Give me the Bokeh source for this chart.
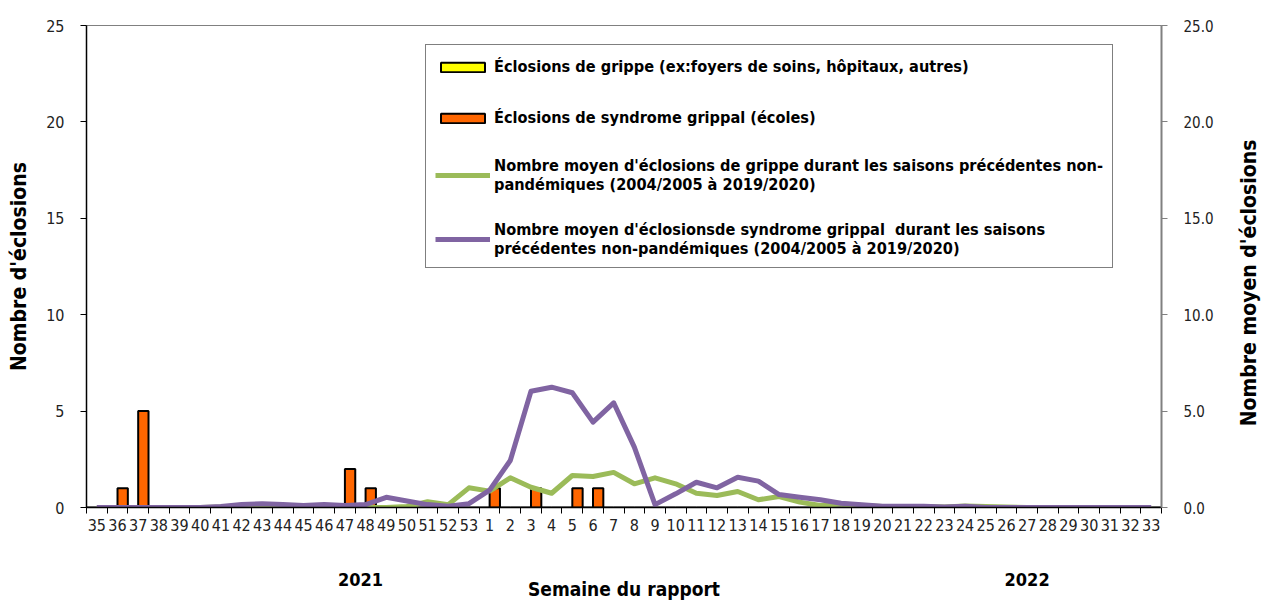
import math
from bokeh.plotting import figure
from bokeh.layouts import row
from bokeh.core.properties import value
from bokeh.models import (Range1d, LinearAxis, FixedTicker, Legend, LegendItem,
                          NumeralTickFormatter, ColumnDataSource)
from bokeh.embed import file_html
from bokeh.resources import INLINE

FONT = "DejaVu Sans Condensed"

weeks = [35, 36, 37, 38, 39, 40, 41, 42, 43, 44, 45, 46, 47, 48, 49, 50, 51, 52, 53,
         1, 2, 3, 4, 5, 6, 7, 8, 9, 10, 11, 12, 13, 14, 15, 16, 17, 18, 19, 20,
         21, 22, 23, 24, 25, 26, 27, 28, 29, 30, 31, 32, 33]

flu_outbreaks = [0] * 52

ili_outbreaks = [0, 1, 5, 0, 0, 0, 0, 0, 0, 0, 0, 0, 2, 1, 0, 0, 0, 0, 0,
                 1, 0, 1, 0, 1, 1, 0, 0, 0, 0, 0, 0, 0, 0, 0, 0, 0, 0, 0, 0,
                 0, 0, 0, 0, 0, 0, 0, 0, 0, 0, 0, 0, 0]

avg_flu = [0, 0, 0, 0, 0, 0, 0.02, 0.03, 0.05, 0.03, 0.02, 0.02, 0, 0, 0, 0.05, 0.3, 0.15, 1.02,
           0.85, 1.54, 1.05, 0.74, 1.66, 1.61, 1.82, 1.23, 1.54, 1.23, 0.74, 0.62, 0.83, 0.4,
           0.57, 0.28, 0.1, 0.2, 0.1, 0.05, 0.05, 0.05, 0.03, 0.08, 0.05, 0.02, 0, 0, 0, 0, 0, 0, 0]

avg_ili = [0, 0, 0, 0, 0, 0, 0.05, 0.15, 0.2, 0.15, 0.1, 0.15, 0.1, 0.15, 0.53, 0.34, 0.15, 0.07, 0.2,
           0.9, 2.44, 6.03, 6.24, 5.95, 4.43, 5.43, 3.13, 0.15, 0.71, 1.31, 1.02, 1.57, 1.37,
           0.67, 0.53, 0.4, 0.22, 0.14, 0.07, 0.07, 0.07, 0.03, 0.07, 0, 0, 0, 0, 0, 0, 0, 0, 0]

labels = [
    "Éclosions de grippe (ex:foyers de soins, hôpitaux, autres)",
    "Éclosions de syndrome grippal (écoles)",
    "Nombre moyen d'éclosions de grippe durant les saisons précédentes non-\npandémiques (2004/2005 à 2019/2020)",
    "Nombre moyen d'éclosionsde syndrome grippal  durant les saisons\nprécédentes non-pandémiques (2004/2005 à 2019/2020)",
]
year_labels = ["2021", "2022"]
year_pos = [12.75, 45.0]
right_title = "Nombre moyen d'éclosions"

n = len(weeks)
idx = list(range(n))
src = ColumnDataSource(dict(
    x=idx,
    xl=[i - 0.25 for i in idx],
    xr=[i + 0.25 for i in idx],
    flu=flu_outbreaks, ili=ili_outbreaks, aflu=avg_flu, aili=avg_ili,
))

FW, FH = 1075, 482
H = 25 + FH + 97
p = figure(width=86 + FW + 71, height=H, frame_width=FW, frame_height=FH,
           min_border_left=86, min_border_right=71, min_border_top=25, min_border_bottom=97,
           x_range=Range1d(-0.5, n - 0.5), y_range=Range1d(0, 25),
           output_backend="svg", toolbar_location=None, tools="")
p.extra_y_ranges = {"right": Range1d(0, 25)}

p.xgrid.visible = False
p.ygrid.visible = False
p.outline_line_color = "#808080"
p.outline_line_width = 1
p.background_fill_color = "white"
p.border_fill_color = "white"

# X axis (week numbers)
xa = p.xaxis[0]
xa.ticker = FixedTicker(ticks=idx, minor_ticks=[i - 0.5 for i in range(n + 1)])
xa.major_label_overrides = {i: str(w) for i, w in enumerate(weeks)}
xa.major_tick_out = 0
xa.major_tick_in = 0
xa.minor_tick_out = 6
xa.minor_tick_in = 0
xa.minor_tick_line_color = "black"
xa.axis_line_color = "black"
xa.axis_line_width = 1.5
xa.major_label_text_font = FONT
xa.major_label_text_font_size = "16px"
xa.major_label_text_color = "#222222"
xa.major_label_standoff = 5

# Second x axis: years + title
xa2 = LinearAxis(ticker=FixedTicker(ticks=year_pos, minor_ticks=[]))
xa2.major_label_overrides = {year_pos[0]: year_labels[0], year_pos[1]: year_labels[1]}
xa2.axis_line_color = None
xa2.major_tick_line_color = None
xa2.minor_tick_line_color = None
xa2.major_tick_out = 0
xa2.major_tick_in = 0
xa2.major_label_text_font = FONT
xa2.major_label_text_font_style = "bold"
xa2.major_label_text_font_size = "18px"
xa2.major_label_text_color = "black"
xa2.major_label_standoff = 39
xa2.axis_label = "Semaine du rapport"
xa2.axis_label_text_font = FONT
xa2.axis_label_text_font_style = "bold"
xa2.axis_label_text_font_size = "19px"
xa2.axis_label_text_color = "black"
xa2.axis_label_standoff = -11
p.add_layout(xa2, "below")

# Left axis
ya = p.yaxis[0]
ya.ticker = FixedTicker(ticks=[0, 5, 10, 15, 20, 25])
ya.minor_tick_line_color = None
ya.major_tick_out = 6
ya.major_tick_in = 0
ya.axis_line_color = "black"
ya.axis_line_width = 1.5
ya.major_tick_line_color = "black"
ya.major_label_text_font = FONT
ya.major_label_text_font_size = "16px"
ya.major_label_text_color = "#222222"
ya.major_label_standoff = 16
ya.axis_label = "Nombre d'éclosions"
ya.axis_label_text_font = FONT
ya.axis_label_text_font_style = "bold"
ya.axis_label_text_font_size = "21px"
ya.axis_label_text_color = "black"
ya.axis_label_standoff = 12

# Right axis
ra = LinearAxis(y_range_name="right", ticker=FixedTicker(ticks=[0, 5, 10, 15, 20, 25]),
                formatter=NumeralTickFormatter(format="0.0"))
ra.minor_tick_line_color = None
ra.major_tick_out = 6
ra.major_tick_in = 0
ra.axis_line_color = "#808080"
ra.axis_line_width = 2
ra.major_tick_line_color = "#808080"
ra.major_label_text_font = FONT
ra.major_label_text_font_size = "15px"
ra.major_label_text_color = "#222222"
ra.major_label_standoff = 16
p.add_layout(ra, "right")

# Bars
r_flu = p.vbar(x="xl", top="flu", width=0.5, source=src, fill_color="#FFFF00",
               line_color="black", line_width=2)
r_ili = p.vbar(x="xr", top="ili", width=0.5, source=src, fill_color="#FF6600",
               line_color="black", line_width=2)

# Lines
r_aflu = p.line(x="x", y="aflu", source=src, y_range_name="right",
                line_color="#9BBB59", line_width=5, line_join="round")
r_aili = p.line(x="x", y="aili", source=src, y_range_name="right",
                line_color="#8064A2", line_width=5, line_join="round")

legend = Legend(items=[
    LegendItem(label=labels[0], renderers=[r_flu]),
    LegendItem(label=labels[1], renderers=[r_ili]),
    LegendItem(label=labels[2], renderers=[r_aflu]),
    LegendItem(label=labels[3], renderers=[r_aili]),
], location=(339, 239))
legend.label_text_font = FONT
legend.label_text_font_style = "bold"
legend.label_text_font_size = "16.2px"
legend.label_text_color = "black"
legend.label_text_line_height = 1.4
legend.glyph_width = 55
legend.glyph_height = 12
legend.label_height = 25
legend.label_standoff = 4
legend.spacing = 26
legend.padding = 9
legend.margin = 0
legend.border_line_color = "black"
legend.border_line_width = 1
legend.background_fill_alpha = 1
p.add_layout(legend, "center")

# Right-hand title panel (reads bottom to top)
p2 = figure(width=33, height=H, x_range=Range1d(0, 1), y_range=Range1d(0, 1),
            min_border=0, x_axis_type=None, y_axis_type=None,
            output_backend="svg", toolbar_location=None, tools="")
p2.outline_line_color = None
p2.border_fill_color = "white"
p2.text(x=[0.5], y=[0.466], text=[right_title], angle=math.pi / 2,
        text_align="center", text_baseline="middle", text_font=value(FONT),
        text_font_style="bold", text_font_size="21px", text_color="black")

layout = row(p, p2, spacing=0)
open("out.html", "w").write(file_html(layout, INLINE))
